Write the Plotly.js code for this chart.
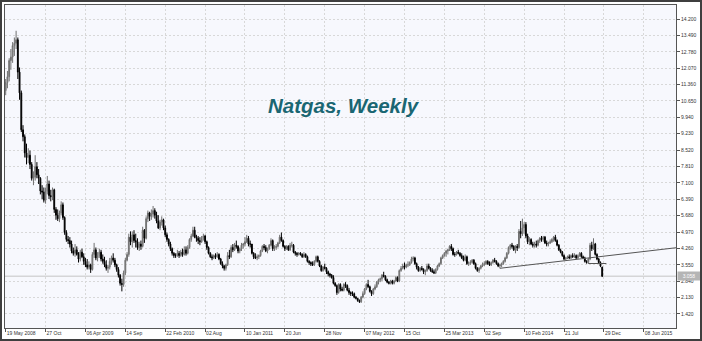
<!DOCTYPE html>
<html>
<head>
<meta charset="utf-8">
<script src="https://cdn.plot.ly/plotly-3.0.1.min.js"></script>
<style>
html,body{margin:0;padding:0;background:#fff;}
#wrap{position:relative;width:702px;height:341px;}
#chart{position:absolute;left:0;top:0;width:702px;height:341px;}
#frame{position:absolute;left:0;top:0;width:702px;height:341px;box-sizing:border-box;border:2px solid #3f3f3f;pointer-events:none;}
</style>
</head>
<body>
<div id="wrap"><div id="chart"></div><div id="frame"></div></div>
<script>
// Weekly bars, first week starting 19 May 2008
const firstWeek = '2008-05-19';

const opens = [
11.10,11.45,11.70,12.40,12.55,13.05,13.15,13.30,11.90,11.00,
9.40,9.10,8.40,8.20,8.30,7.90,7.30,7.35,7.80,7.45,
7.30,6.75,6.70,6.35,6.75,7.05,6.55,6.50,6.80,5.95,
5.70,5.55,5.80,6.15,5.60,4.95,4.65,4.60,4.45,4.15,
4.05,4.20,4.00,3.80,4.10,3.90,3.70,3.55,3.45,3.55,
3.35,4.00,4.20,3.85,3.95,4.10,3.80,3.70,3.55,3.40,
3.45,3.70,3.85,3.75,3.55,3.35,3.10,2.75,2.70,3.20,
3.75,4.00,4.75,4.55,4.85,4.60,4.55,4.30,4.45,4.35,
5.05,4.70,5.55,5.80,5.65,5.75,5.90,5.70,5.45,5.15,
5.40,5.50,5.15,4.85,4.65,4.45,4.25,4.05,3.95,3.95,
4.05,3.95,4.10,4.00,4.20,4.05,4.30,4.65,4.80,5.05,
4.75,4.70,4.60,4.55,4.70,4.80,4.55,4.30,4.05,3.90,
3.85,3.95,3.90,4.00,3.80,3.60,3.50,3.40,3.55,3.95,
3.90,4.30,4.20,4.40,4.35,4.15,4.25,4.40,4.45,4.55,
4.70,4.45,4.45,4.05,3.90,3.85,3.90,3.95,4.15,4.35,
4.30,4.15,4.25,4.40,4.60,4.25,4.30,4.35,4.50,4.75,
4.60,4.35,4.25,4.35,4.20,4.40,4.40,4.10,4.05,4.00,
4.05,4.00,3.90,4.00,3.90,3.70,3.65,3.60,3.55,3.70,
3.90,3.70,3.50,3.30,3.45,3.40,3.25,3.15,3.10,3.00,
2.75,2.65,2.35,2.70,2.50,2.45,2.70,2.65,2.45,2.35,
2.30,2.30,2.15,2.10,2.00,1.95,2.15,2.30,2.50,2.70,
2.60,2.40,2.30,2.50,2.60,2.80,2.90,2.95,3.10,3.05,
2.90,2.80,2.75,2.85,2.75,2.85,3.00,2.85,3.30,3.40,
3.50,3.45,3.55,3.55,3.65,3.80,3.85,3.60,3.45,3.30,
3.40,3.35,3.25,3.30,3.50,3.40,3.30,3.25,3.20,3.35,
3.50,3.60,3.85,3.95,4.05,4.15,4.20,4.35,4.25,4.00,
4.00,4.10,4.05,3.95,3.85,3.75,3.90,3.60,3.65,3.65,
3.75,3.60,3.40,3.30,3.40,3.50,3.55,3.60,3.70,3.60,
3.55,3.65,3.75,3.70,3.60,3.50,3.55,3.60,3.70,3.85,
4.05,4.30,4.40,4.35,4.20,4.35,4.30,5.00,4.90,5.15,
5.30,4.80,4.55,4.65,4.45,4.40,4.45,4.40,4.60,4.70,
4.65,4.75,4.50,4.45,4.50,4.55,4.65,4.75,4.60,4.40,
4.20,4.10,3.95,3.80,3.85,3.90,3.85,3.95,3.90,3.95,
3.85,3.95,4.05,3.90,3.85,3.70,3.65,3.80,4.40,4.25,
4.45,4.00,3.80,3.65,3.45];

const highs = [
11.60,11.95,12.50,12.90,13.20,13.40,13.69,13.40,12.10,11.10,
9.60,9.20,8.80,8.60,8.50,8.00,7.60,8.30,8.00,7.70,
7.35,7.00,6.90,6.90,7.40,7.20,6.80,6.90,6.85,6.05,
5.95,5.90,6.30,6.25,5.65,5.05,4.80,4.75,4.60,4.30,
4.45,4.35,4.10,4.20,4.25,4.05,3.85,3.80,3.70,3.60,
4.10,4.50,4.30,4.10,4.25,4.20,4.00,3.90,3.75,3.55,
3.85,3.95,4.05,3.85,3.60,3.45,3.15,2.95,3.30,3.85,
4.10,4.90,5.00,5.00,5.05,4.90,4.70,4.55,4.60,5.20,
5.10,5.65,5.90,5.85,5.95,6.10,6.00,5.85,5.70,5.50,
5.65,5.55,5.25,4.95,4.70,4.55,4.30,4.10,4.05,4.20,
4.15,4.20,4.25,4.35,4.35,4.40,4.70,4.90,5.20,5.20,
4.85,4.80,4.75,4.80,4.90,4.85,4.60,4.35,4.10,4.00,
4.00,4.05,4.10,4.05,3.85,3.70,3.55,3.60,4.10,4.20,
4.40,4.45,4.50,4.60,4.40,4.30,4.50,4.50,4.75,4.85,
4.80,4.60,4.45,4.10,4.05,4.00,4.00,4.20,4.40,4.45,
4.40,4.30,4.45,4.70,4.65,4.40,4.45,4.55,4.85,4.95,
4.65,4.40,4.40,4.40,4.50,4.55,4.45,4.15,4.10,4.10,
4.10,4.05,4.10,4.05,3.95,3.75,3.70,3.70,3.75,3.95,
3.95,3.75,3.55,3.50,3.60,3.45,3.30,3.20,3.15,3.10,
2.80,2.70,2.75,2.75,2.60,2.75,2.80,2.70,2.55,2.40,
2.40,2.35,2.20,2.10,2.05,2.20,2.40,2.55,2.75,2.90,
2.65,2.45,2.55,2.70,2.85,2.95,3.00,3.15,3.25,3.10,
2.95,2.85,2.90,2.90,2.90,3.05,3.05,3.35,3.50,3.60,
3.65,3.60,3.70,3.70,3.90,3.92,3.90,3.65,3.50,3.45,
3.50,3.40,3.35,3.60,3.60,3.45,3.40,3.35,3.40,3.55,
3.65,3.90,4.00,4.10,4.20,4.25,4.40,4.45,4.30,4.10,
4.15,4.20,4.10,4.05,3.95,4.00,3.95,3.70,3.75,3.80,
3.80,3.65,3.45,3.45,3.55,3.65,3.70,3.75,3.75,3.70,
3.70,3.80,3.85,3.75,3.65,3.60,3.65,3.75,3.90,4.10,
4.35,4.45,4.50,4.40,4.40,4.45,5.10,5.45,5.55,5.40,
5.40,4.90,4.75,4.70,4.55,4.55,4.60,4.65,4.75,4.80,
4.80,4.80,4.60,4.55,4.65,4.70,4.80,4.85,4.65,4.45,
4.25,4.15,4.00,3.90,3.95,4.00,4.00,4.05,4.05,4.00,
4.00,4.10,4.10,3.95,3.90,3.75,3.85,4.50,4.55,4.70,
4.50,4.05,3.85,3.70,3.47];

const lows = [
10.90,11.20,11.50,12.00,12.30,12.60,12.90,11.60,10.70,9.30,
8.90,8.20,7.90,7.95,7.70,7.20,7.00,7.20,7.30,7.05,
6.60,6.40,6.25,6.20,6.60,6.40,6.30,6.35,5.80,5.50,
5.45,5.40,5.70,5.50,4.85,4.55,4.45,4.30,4.05,3.95,
3.90,3.95,3.65,3.70,3.85,3.55,3.45,3.35,3.35,3.20,
3.30,3.85,3.75,3.70,3.85,3.70,3.60,3.45,3.30,3.20,
3.35,3.55,3.65,3.45,3.25,3.00,2.65,2.40,2.60,3.10,
3.70,3.90,4.40,4.30,4.50,4.30,4.20,4.15,4.20,4.30,
4.50,4.65,5.40,5.45,5.50,5.60,5.55,5.35,5.10,5.05,
5.25,5.05,4.75,4.55,4.35,4.15,3.95,3.85,3.85,3.90,
3.85,3.90,3.90,3.95,3.95,4.00,4.25,4.55,4.75,4.70,
4.55,4.45,4.40,4.50,4.60,4.45,4.20,4.00,3.85,3.75,
3.80,3.80,3.85,3.75,3.55,3.40,3.30,3.30,3.50,3.80,
3.85,4.10,4.15,4.25,4.05,4.05,4.15,4.25,4.35,4.50,
4.35,4.30,4.00,3.80,3.80,3.75,3.80,3.90,4.10,4.20,
4.10,4.05,4.20,4.35,4.15,4.15,4.20,4.30,4.45,4.55,
4.30,4.15,4.20,4.15,4.15,4.30,4.05,3.95,3.90,3.95,
3.95,3.85,3.85,3.85,3.65,3.55,3.50,3.50,3.50,3.65,
3.65,3.45,3.25,3.25,3.35,3.15,3.05,3.00,2.95,2.70,
2.60,2.25,2.30,2.40,2.40,2.40,2.55,2.40,2.25,2.20,
2.20,2.10,2.05,1.95,1.90,1.90,2.10,2.25,2.45,2.55,
2.35,2.20,2.25,2.45,2.55,2.70,2.80,2.85,3.00,2.85,
2.75,2.70,2.70,2.70,2.70,2.80,2.80,2.80,3.25,3.35,
3.35,3.40,3.45,3.50,3.60,3.70,3.55,3.35,3.25,3.25,
3.30,3.15,3.10,3.25,3.35,3.25,3.20,3.15,3.15,3.30,
3.45,3.55,3.80,3.90,3.90,4.00,4.15,4.15,3.95,3.90,
3.95,4.00,3.90,3.80,3.70,3.70,3.55,3.50,3.55,3.60,
3.55,3.35,3.25,3.20,3.35,3.45,3.50,3.55,3.55,3.50,
3.50,3.60,3.65,3.55,3.45,3.40,3.45,3.55,3.65,3.80,
4.00,4.20,4.25,4.15,4.05,4.15,4.25,4.70,4.80,4.90,
4.70,4.45,4.40,4.40,4.30,4.30,4.30,4.35,4.50,4.55,
4.55,4.45,4.35,4.35,4.45,4.50,4.55,4.55,4.35,4.15,
4.05,3.90,3.75,3.75,3.80,3.80,3.80,3.85,3.85,3.80,
3.80,3.90,3.85,3.80,3.65,3.60,3.60,3.75,4.15,4.20,
3.95,3.75,3.60,3.45,3.02];

const closes = [
11.45,11.70,12.40,12.55,13.05,13.15,13.30,11.90,11.00,9.40,
9.10,8.40,8.20,8.30,7.90,7.30,7.35,7.80,7.45,7.30,
6.75,6.70,6.35,6.75,7.05,6.55,6.50,6.80,5.95,5.70,
5.55,5.80,6.15,5.60,4.95,4.65,4.60,4.45,4.15,4.05,
4.20,4.00,3.80,4.10,3.90,3.70,3.55,3.45,3.55,3.35,
4.00,4.20,3.85,3.95,4.10,3.80,3.70,3.55,3.40,3.45,
3.70,3.85,3.75,3.55,3.35,3.10,2.75,2.70,3.20,3.75,
4.00,4.75,4.55,4.85,4.60,4.55,4.30,4.45,4.35,5.05,
4.70,5.55,5.80,5.65,5.75,5.90,5.70,5.45,5.15,5.40,
5.50,5.15,4.85,4.65,4.45,4.25,4.05,3.95,3.95,4.05,
3.95,4.10,4.00,4.20,4.05,4.30,4.65,4.80,5.05,4.75,
4.70,4.60,4.55,4.70,4.80,4.55,4.30,4.05,3.90,3.85,
3.95,3.90,4.00,3.80,3.60,3.50,3.40,3.55,3.95,3.90,
4.30,4.20,4.40,4.35,4.15,4.25,4.40,4.45,4.55,4.70,
4.45,4.45,4.05,3.90,3.85,3.90,3.95,4.15,4.35,4.30,
4.15,4.25,4.40,4.60,4.25,4.30,4.35,4.50,4.75,4.60,
4.35,4.25,4.35,4.20,4.40,4.40,4.10,4.05,4.00,4.05,
4.00,3.90,4.00,3.90,3.70,3.65,3.60,3.55,3.70,3.90,
3.70,3.50,3.30,3.45,3.40,3.25,3.15,3.10,3.00,2.75,
2.65,2.35,2.70,2.50,2.45,2.70,2.65,2.45,2.35,2.30,
2.30,2.15,2.10,2.00,1.95,2.15,2.30,2.50,2.70,2.60,
2.40,2.30,2.50,2.60,2.80,2.90,2.95,3.10,3.05,2.90,
2.80,2.75,2.85,2.75,2.85,3.00,2.85,3.30,3.40,3.50,
3.45,3.55,3.55,3.65,3.80,3.85,3.60,3.45,3.30,3.40,
3.35,3.25,3.30,3.50,3.40,3.30,3.25,3.20,3.35,3.50,
3.60,3.85,3.95,4.05,4.15,4.20,4.35,4.25,4.00,4.00,
4.10,4.05,3.95,3.85,3.75,3.90,3.60,3.65,3.65,3.75,
3.60,3.40,3.30,3.40,3.50,3.55,3.60,3.70,3.60,3.55,
3.65,3.75,3.70,3.60,3.50,3.55,3.60,3.70,3.85,4.05,
4.30,4.40,4.35,4.20,4.35,4.30,5.00,4.90,5.15,5.30,
4.80,4.55,4.65,4.45,4.40,4.45,4.40,4.60,4.70,4.65,
4.75,4.50,4.45,4.50,4.55,4.65,4.75,4.60,4.40,4.20,
4.10,3.95,3.80,3.85,3.90,3.85,3.95,3.90,3.95,3.85,
3.95,4.05,3.90,3.85,3.70,3.65,3.80,4.40,4.25,4.45,
4.00,3.80,3.65,3.50,3.058];

// x-axis tick dates and labels
const xTickDates = ['2008-05-19','2008-10-27','2009-04-06','2009-09-14','2010-02-22','2010-08-02',
  '2011-01-10','2011-06-20','2011-11-28','2012-05-07','2012-10-15','2013-03-25','2013-09-02',
  '2014-02-10','2014-07-21','2014-12-29','2015-06-08'];
const xTickLabels = ['19 May 2008','27 Oct','06 Apr 2009','14 Sep','22 Feb 2010','02 Aug',
  '10 Jan 2011','20 Jun','28 Nov','07 May 2012','15 Oct','25 Mar 2013','02 Sep',
  '10 Feb 2014','21 Jul','29 Dec','08 Jun 2015'];
// y-axis ticks
const yTicks = [1.42,2.13,2.84,3.55,4.26,4.97,5.68,6.39,7.10,7.81,8.52,9.23,9.94,10.65,11.36,12.07,12.78,13.49,14.20];

// drawn trend lines
const trendDates = ['2013-11-04','2015-10-16'];
const trendValues = [3.40, 4.29];
const shelfDates = ['2014-10-27','2015-01-08'];
const shelfValues = [3.607, 3.607];

const titleText = 'Natgas, Weekly';

// build weekly dates
const t0 = Date.parse(firstWeek + 'T00:00:00Z');
const dates = closes.map((_, i) => new Date(t0 + i * 7 * 86400000).toISOString().slice(0, 10));
const lastClose = closes[closes.length - 1];

const tickFont = {family: 'Liberation Sans, Arial, sans-serif', size: 5, color: '#333'};

const traces = [
  {
    type: 'candlestick', x: dates, open: opens, high: highs, low: lows, close: closes,
    increasing: {line: {color: '#707070', width: 1}, fillcolor: '#9a9a9a'},
    decreasing: {line: {color: '#000000', width: 1}, fillcolor: '#000000'},
    whiskerwidth: 0, hoverinfo: 'skip', showlegend: false
  },
  {
    type: 'scatter', mode: 'lines', x: trendDates, y: trendValues,
    line: {color: '#555555', width: 1}, hoverinfo: 'skip', showlegend: false
  },
  {
    type: 'scatter', mode: 'lines', x: shelfDates, y: shelfValues,
    line: {color: '#555555', width: 1}, hoverinfo: 'skip', showlegend: false
  }
];

const layout = {
  width: 702, height: 341,
  margin: {l: 5, r: 26, t: 5, b: 13, pad: 0},
  paper_bgcolor: '#ffffff', plot_bgcolor: '#f7f8fd',
  showlegend: false,
  xaxis: {
    type: 'date', range: ['2008-05-16 05:00', '2015-10-16'],
    tickmode: 'array', tickvals: xTickDates, ticktext: xTickLabels,
    ticks: 'outside', ticklen: 3, tickcolor: '#555', tickwidth: 1,
    ticklabelposition: 'outside right',
    tickfont: tickFont,
    showgrid: true, gridcolor: '#d8d8d8', griddash: '2px,2px', gridwidth: 1,
    showline: true, linecolor: '#555', linewidth: 1, mirror: true,
    zeroline: false, rangeslider: {visible: false}, fixedrange: true
  },
  yaxis: {
    side: 'right', range: [0.813, 14.807],
    tickmode: 'array', tickvals: yTicks, tickformat: '.3f',
    ticks: 'outside', ticklen: 3, tickcolor: '#555', tickwidth: 1,
    tickfont: tickFont,
    showgrid: true, gridcolor: '#d8d8d8', griddash: '2px,2px', gridwidth: 1,
    showline: true, linecolor: '#555', linewidth: 1, mirror: true,
    zeroline: false, fixedrange: true
  },
  shapes: [
    {type: 'line', xref: 'paper', x0: 0, x1: 1, yref: 'y', y0: lastClose, y1: lastClose,
     line: {color: '#c4c4c4', width: 1}, layer: 'below'}
  ],
  annotations: [
    {text: '<b><i>' + titleText + '</i></b>', xref: 'paper', yref: 'paper', x: 0.505, y: 0.69,
     xanchor: 'center', yanchor: 'middle', showarrow: false,
     font: {family: 'Liberation Sans, Arial, sans-serif', size: 20.5, color: '#1a6672'}},
    {text: lastClose.toFixed(3), xref: 'paper', yref: 'y', x: 1, y: lastClose,
     xanchor: 'left', yanchor: 'middle', xshift: 1, showarrow: false,
     bgcolor: '#b5b5b5', borderpad: 1, width: 20,
     font: {family: 'Liberation Sans, Arial, sans-serif', size: 5, color: '#ffffff'}}
  ]
};

Plotly.newPlot('chart', traces, layout, {staticPlot: true, displayModeBar: false});
</script>
</body>
</html>
